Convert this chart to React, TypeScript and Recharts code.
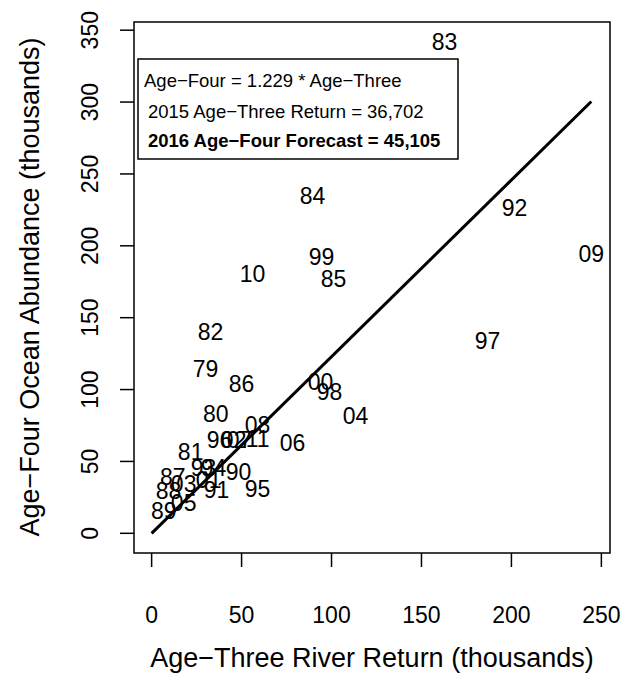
import React from 'react';
import { ScatterChart, Scatter, XAxis, YAxis, ReferenceLine, ReferenceArea } from 'recharts';

const years = ['79','80','81','82','83','84','85','86','87','88','89','90','91','92','93','94','95','96','97','98','99','00','01','02','03','04','05','06','07','08','09','10','11'];
const ageThree = [30.0,35.6,21.7,32.8,162.8,89.4,101.1,50.0,11.7,9.4,6.7,48.3,36.1,201.7,28.9,34.4,58.9,37.8,186.7,98.9,94.4,93.9,31.7,45.6,17.8,113.3,17.8,78.3,48.9,58.9,244.4,56.1,58.9];
const ageFour = [114.6,83.3,56.9,140.3,341.7,234.7,177.1,104.2,38.9,29.2,15.3,42.4,29.9,226.4,45.1,45.1,30.6,64.6,134.0,98.6,192.4,105.6,36.8,64.6,34.0,81.9,20.8,62.5,64.6,75.0,194.4,180.6,65.3];
const xTicks = [0, 50, 100, 150, 200, 250];
const yTicks = [0, 50, 100, 150, 200, 250, 300, 350];
const xDomain = [-9.8, 254.8];
const yDomain = [-13.7, 355.7];
const slope = 1.229;
const lineEndX = 244.4;
const legendLines = ['Age\u2212Four = 1.229 * Age\u2212Three', '2015 Age\u2212Three Return = 36,702', '2016 Age\u2212Four Forecast = 45,105'];
const xTitle = 'Age\u2212Three River Return (thousands)';
const yTitle = 'Age\u2212Four Ocean Abundance (thousands)';

const data = years.map((y, i) => ({ x: ageThree[i], y: ageFour[i], label: y }));

const FONT = '"Liberation Sans", Arial, Helvetica, sans-serif';
const FS = 23;
const TITLE_FS = 27;

const LabelShape = (props: any) => {
  const { cx, cy, payload } = props;
  return (
    <text x={cx} y={cy} textAnchor="middle" dominantBaseline="central" fontSize={FS} fontFamily={FONT} fill="#000">
      {payload.label}
    </text>
  );
};

const XTick = (props: any) => {
  const { x, y, payload } = props;
  return (
    <text x={x} y={y + 48} textAnchor="middle" dominantBaseline="central" fontSize={FS} fontFamily={FONT} fill="#000">
      {payload.value}
    </text>
  );
};

const YTick = (props: any) => {
  const { x, y, payload } = props;
  const tx = x - 30;
  return (
    <text x={tx} y={y} transform={`rotate(-90 ${tx} ${y})`} textAnchor="middle" dominantBaseline="central" fontSize={FS} fontFamily={FONT} fill="#000">
      {payload.value}
    </text>
  );
};

export default function App() {
  return (
    <div style={{ position: 'absolute', left: 0, top: 0, width: 627, height: 679, background: '#fff' }}>
      <ScatterChart width={627} height={679} margin={{ top: 22, right: 17, bottom: 0, left: 0 }}>
        <XAxis type="number" dataKey="x" domain={xDomain} ticks={xTicks} allowDataOverflow height={126}
          axisLine={false} tickSize={14} tickMargin={0} tickLine={{ stroke: '#000', strokeWidth: 1.5 }} tick={<XTick />} />
        <YAxis type="number" dataKey="y" domain={yDomain} ticks={yTicks} allowDataOverflow width={134}
          axisLine={false} tickSize={14} tickMargin={0} tickLine={{ stroke: '#000', strokeWidth: 1.5 }} tick={<YTick />} />
        <ReferenceArea x1={xDomain[0]} x2={xDomain[1]} y1={yDomain[0]} y2={yDomain[1]} fill="none" stroke="#000" strokeWidth={1.5} ifOverflow="visible" />
        <ReferenceLine segment={[{ x: 0, y: 0 }, { x: lineEndX, y: slope * lineEndX }]} stroke="#000" strokeWidth={3} ifOverflow="visible" />
        <Scatter data={data} shape={<LabelShape />} isAnimationActive={false} />
      </ScatterChart>
      <svg width={627} height={679} style={{ position: 'absolute', left: 0, top: 0, pointerEvents: 'none' }}>
        <rect x={138} y={59} width={320} height={100} fill="#fff" stroke="#000" strokeWidth={1.5} />
        <text x={144} y={80} dominantBaseline="central" fontSize={18.5} fontFamily={FONT} fill="#000">{legendLines[0]}</text>
        <text x={148} y={111} dominantBaseline="central" fontSize={18.5} fontFamily={FONT} fill="#000">{legendLines[1]}</text>
        <text x={148} y={140} dominantBaseline="central" fontSize={18.5} fontFamily={FONT} fontWeight="bold" fill="#000">{legendLines[2]}</text>
        <text x={372} y={658} textAnchor="middle" dominantBaseline="central" fontSize={TITLE_FS} fontFamily={FONT} fill="#000">{xTitle}</text>
        <text x={30} y={287} transform="rotate(-90 30 287)" textAnchor="middle" dominantBaseline="central" fontSize={TITLE_FS} fontFamily={FONT} fill="#000">{yTitle}</text>
      </svg>
    </div>
  );
}
